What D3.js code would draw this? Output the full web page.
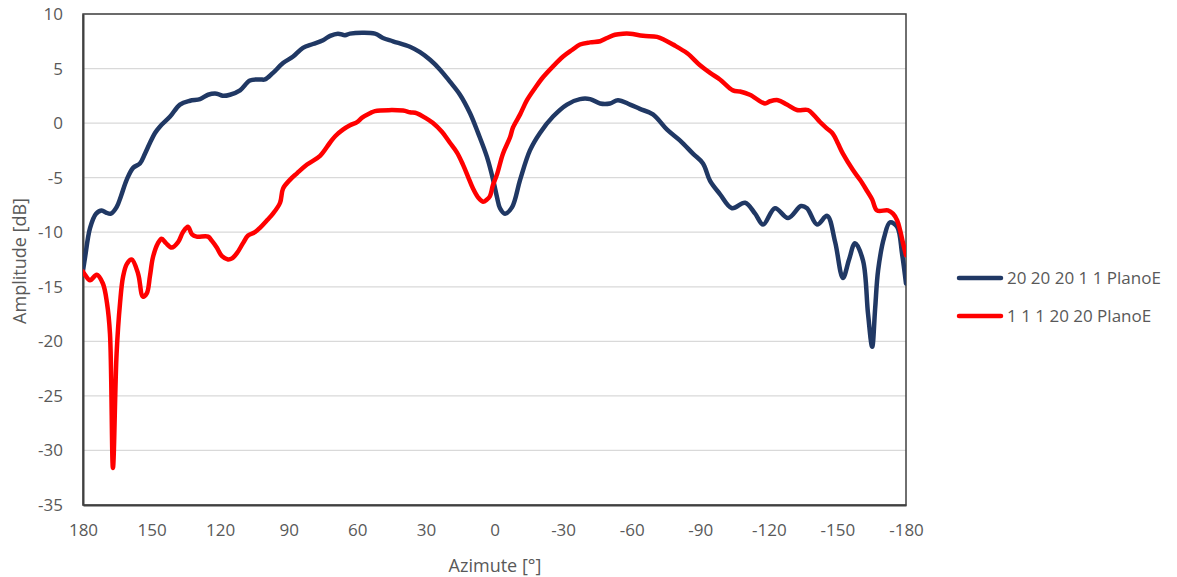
<!DOCTYPE html>
<html>
<head>
<meta charset="utf-8">
<script src="https://cdn.jsdelivr.net/npm/d3@7/dist/d3.min.js"></script>
<style>
  body { margin: 0; background: #fff; }
  svg { display: block; }
  text { font-family: "Open Sans", "Noto Sans", sans-serif; }
</style>
</head>
<body>
<svg id="chart" width="1177" height="577"></svg>
<script>
// ---- Data ----
const seriesNames = ["20 20 20 1 1 PlanoE", "1 1 1 20 20 PlanoE"];
const xTicks = [180, 150, 120, 90, 60, 30, 0, -30, -60, -90, -120, -150, -180];
const yTicks = [10, 5, 0, -5, -10, -15, -20, -25, -30, -35];

const blueAz = [180, 179.1, 176.9, 174.3, 171.8, 169.9, 167.8, 165.3, 163.4, 160.9, 158.1, 155.1, 152.9, 150.7, 148.5, 146.3, 141.9, 137.6, 133.2, 128.8, 125.3, 121.5, 118.8, 115.7, 111.3, 107.0, 102.6, 100.4, 96.9, 92.5, 88.1, 83.8, 79.4, 75.0, 71.9, 68.5, 65.4, 63.2, 52.3, 48.8, 44.4, 37.0, 32.6, 28.2, 23.8, 19.5, 15.1, 10.7, 7.2, 3.3, 0.6, -1.1, -2.4, -4.6, -7.7, -11.2, -15.5, -19.9, -25.6, -31.7, -37.4, -41.8, -46.2, -50.5, -54.0, -59.3, -63.6, -69.3, -75.5, -81.2, -86.8, -91.2, -94.3, -98.6, -103.9, -109.6, -114.0, -117.5, -122.7, -128.4, -134.1, -136.7, -141.1, -145.5, -149.0, -152.4, -155.1, -157.7, -161.2, -163.4, -165.2, -166.5, -167.8, -170.4, -173.0, -176.1, -178.3, -180];
const blueDb = [-13.5, -12.3, -9.6, -8.3, -8.0, -8.2, -8.3, -7.7, -6.7, -5.2, -4.1, -3.7, -2.8, -1.8, -0.9, -0.3, 0.6, 1.7, 2.05, 2.2, 2.6, 2.7, 2.5, 2.6, 3.0, 3.9, 4.0, 4.0, 4.6, 5.5, 6.1, 6.9, 7.25, 7.6, 8.0, 8.2, 8.05, 8.2, 8.2, 7.8, 7.5, 7.0, 6.5, 5.8, 4.9, 3.8, 2.6, 0.9, -0.9, -3.1, -5.2, -6.8, -7.8, -8.3, -7.7, -5.2, -2.5, -0.9, 0.6, 1.7, 2.2, 2.2, 1.8, 1.8, 2.1, 1.7, 1.3, 0.8, -0.6, -1.6, -2.8, -3.7, -5.3, -6.5, -7.8, -7.3, -8.3, -9.3, -7.8, -8.7, -7.6, -7.8, -9.3, -8.5, -10.9, -14.2, -12.5, -11.0, -12.6, -17.5, -20.5, -17.0, -13.5, -10.5, -9.1, -9.5, -12.0, -14.7];

const redAz = [180, 179.1, 176.9, 174.0, 171.3, 169.5, 168.2, 166.9, 165.3, 163.8, 162.5, 160.8, 158.7, 155.9, 153.8, 152.1, 150.7, 149.4, 147.2, 145.6, 143.7, 141.2, 138.4, 136.3, 134.1, 132.3, 130.3, 125.3, 123.6, 121.5, 119.2, 116.6, 114.8, 112.6, 110.0, 107.8, 104.8, 102.6, 99.5, 96.9, 93.8, 92.5, 89.5, 86.4, 82.0, 76.3, 72.0, 69.7, 66.3, 63.2, 60.1, 57.9, 54.5, 52.3, 40.0, 37.0, 33.9, 30.4, 26.9, 23.0, 19.5, 16.4, 13.8, 11.6, 9.4, 7.2, 5.0, 3.3, 2.0, 0.7, -1.1, -3.7, -6.8, -8.1, -11.2, -14.2, -17.7, -21.2, -25.6, -30.0, -33.9, -37.4, -41.8, -46.2, -49.2, -52.7, -56.2, -59.3, -65.0, -71.1, -74.6, -78.1, -84.3, -89.9, -94.3, -98.6, -104.3, -107.4, -111.7, -118.3, -120.5, -124.0, -127.9, -132.3, -137.1, -139.8, -142.4, -145.5, -148.1, -150.3, -152.4, -156.8, -159.9, -162.9, -165.2, -167.3, -172.1, -174.3, -176.1, -177.4, -178.7, -180];
const redDb = [-13.6, -13.9, -14.4, -13.9, -14.7, -16.5, -19.3, -31.6, -21.1, -16.5, -14.1, -12.9, -12.5, -13.8, -15.9, -15.6, -14.0, -12.3, -11.0, -10.6, -11.0, -11.4, -10.9, -10.0, -9.5, -10.2, -10.4, -10.4, -10.8, -11.4, -12.2, -12.5, -12.4, -11.9, -11.0, -10.3, -10.0, -9.6, -8.9, -8.3, -7.3, -6.0, -5.2, -4.6, -3.8, -3.0, -1.8, -1.2, -0.6, -0.2, 0.1, 0.5, 0.9, 1.1, 1.15, 1.0, 0.9, 0.5, 0.0, -0.8, -1.8, -2.7, -3.8, -4.9, -6.0, -6.8, -7.2, -7.0, -6.7, -5.7, -4.7, -2.8, -1.3, -0.4, 0.8, 2.1, 3.2, 4.2, 5.2, 6.1, 6.7, 7.2, 7.4, 7.5, 7.8, 8.1, 8.2, 8.2, 8.0, 7.9, 7.6, 7.2, 6.4, 5.3, 4.6, 4.0, 3.0, 2.9, 2.6, 1.8, 2.0, 2.1, 1.7, 1.2, 1.2, 0.7, 0.1, -0.5, -1.0, -1.9, -2.8, -4.3, -5.2, -6.2, -7.0, -8.0, -8.0, -8.3, -8.9, -9.8, -11.0, -12.1];

const seriesColors = ["#203864", "#ff0000"];

// ---- Layout ----
const svg = d3.select("#chart");
const plot = { left: 83, right: 906, top: 14, bottom: 505 };

const x = d3.scaleLinear().domain([180, -180]).range([plot.left, plot.right]);
const y = d3.scaleLinear().domain([-35, 10]).range([plot.bottom, plot.top]);
const fmt = d => String(d);

// gridlines
svg.append("g")
  .selectAll("line")
  .data(yTicks)
  .join("line")
  .attr("x1", plot.left).attr("x2", plot.right)
  .attr("y1", d => y(d)).attr("y2", d => y(d))
  .attr("stroke", "#d9d9d9").attr("stroke-width", 1.2);

// plot border
svg.append("rect")
  .attr("x", plot.left).attr("y", plot.top)
  .attr("width", plot.right - plot.left).attr("height", plot.bottom - plot.top)
  .attr("fill", "none").attr("stroke", "#404040").attr("stroke-width", 1.5);

// axes
const yAxis = svg.append("g")
  .attr("transform", `translate(${plot.left},0)`)
  .call(d3.axisLeft(y).tickValues(yTicks).tickSize(0).tickPadding(20).tickFormat(fmt));
yAxis.select(".domain").attr("stroke", "#404040").attr("stroke-width", 2);
yAxis.selectAll("text").attr("fill", "#595959").style("font-size", "17px")
  .style("font-family", "'Open Sans', sans-serif");

const xAxis = svg.append("g")
  .attr("transform", `translate(0,${plot.bottom})`)
  .call(d3.axisBottom(x).tickValues(xTicks).tickSize(0).tickPadding(19).tickFormat(fmt));
xAxis.select(".domain").attr("stroke", "#404040").attr("stroke-width", 2);
xAxis.selectAll("text").attr("fill", "#595959").style("font-size", "17px")
  .style("font-family", "'Open Sans', sans-serif");

// axis titles
svg.append("text")
  .attr("x", 495).attr("y", 572)
  .attr("text-anchor", "middle")
  .attr("fill", "#595959").style("font-size", "18px")
  .text("Azimute [°]");
svg.append("text")
  .attr("transform", "translate(26,261) rotate(-90)")
  .attr("text-anchor", "middle")
  .attr("fill", "#595959").style("font-size", "18px")
  .text("Amplitude [dB]");

// lines
const line = d3.line()
  .x(d => x(d[0])).y(d => y(d[1]))
  .curve(d3.curveCatmullRom.alpha(0.5));

const seriesData = [
  d3.zip(blueAz, blueDb),
  d3.zip(redAz, redDb)
];

svg.append("defs").append("clipPath").attr("id", "clip")
  .append("rect").attr("x", plot.left).attr("y", plot.top - 5)
  .attr("width", plot.right - plot.left).attr("height", plot.bottom - plot.top + 5);

svg.append("g").attr("clip-path", "url(#clip)")
  .selectAll("path")
  .data(seriesData)
  .join("path")
  .attr("d", line)
  .attr("fill", "none")
  .attr("stroke", (d, i) => seriesColors[i])
  .attr("stroke-width", 4.5)
  .attr("stroke-linejoin", "round")
  .attr("stroke-linecap", "round");

// legend
const legend = svg.append("g");
const legendY = [278, 316];
seriesNames.forEach((name, i) => {
  legend.append("line")
    .attr("x1", 959).attr("x2", 1001)
    .attr("y1", legendY[i]).attr("y2", legendY[i])
    .attr("stroke", seriesColors[i]).attr("stroke-width", 4.5)
    .attr("stroke-linecap", "round");
  legend.append("text")
    .attr("x", 1007).attr("y", legendY[i])
    .attr("dy", "0.35em")
    .attr("fill", "#595959").style("font-size", "17px")
    .text(name);
});
</script>
</body>
</html>
